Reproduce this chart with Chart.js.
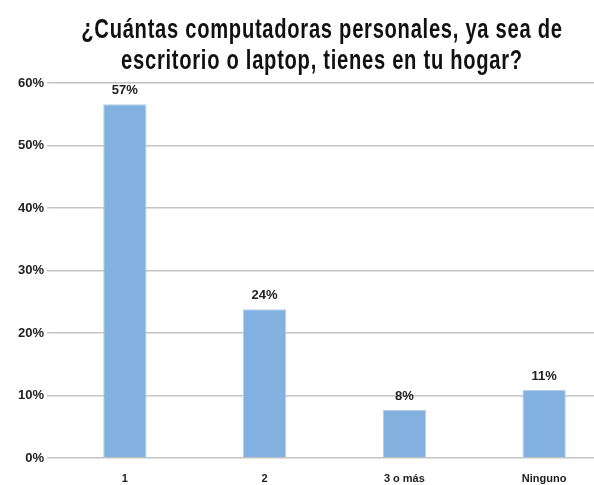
<!DOCTYPE html>
<html>
<head>
<meta charset="utf-8">
<script src="https://cdn.jsdelivr.net/npm/chart.js@4"></script>
<style>
  html, body { margin: 0; padding: 0; background: #fff; overflow: hidden; }
  #wrap { width: 644px; height: 485px; }
</style>
</head>
<body>
<div id="wrap"><canvas id="pcChart" width="644" height="485"></canvas></div>
<script>
var categories = ["1", "2", "3 o más", "Ninguno"];
var shares = [56.6, 23.8, 7.7, 10.9];
var shareLabels = ["57%", "24%", "8%", "11%"];
var yTicks = [0, 10, 20, 30, 40, 50, 60];
var titleLines = ["¿Cuántas computadoras personales, ya sea de", "escritorio o laptop, tienes en tu hogar?"];

// labels above bars
var barLabels = {
    id: 'barLabels',
    afterDatasetsDraw: function(chart) {
        var ctx = chart.ctx;
        var meta = chart.getDatasetMeta(0);
        ctx.save();
        ctx.font = 'bold 13px "Liberation Sans", Arial, sans-serif';
        ctx.fillStyle = '#222';
        ctx.textAlign = 'center';
        ctx.textBaseline = 'bottom';
        meta.data.forEach(function(bar, i) {
            ctx.fillText(shareLabels[i], bar.x, bar.y - 7);
        });
        ctx.restore();
    }
};

// condensed two line title
var condensedTitle = {
    id: 'condensedTitle',
    afterDraw: function(chart) {
        var ctx = chart.ctx;
        var cx = chart.width / 2;
        ctx.save();
        ctx.font = 'bold 28px "Liberation Sans", Arial, sans-serif';
        ctx.fillStyle = '#111';
        ctx.textAlign = 'center';
        ctx.textBaseline = 'alphabetic';
        if ('letterSpacing' in ctx) ctx.letterSpacing = '1px';
        ctx.translate(cx, 0);
        ctx.scale(0.72, 1);
        ctx.fillText(titleLines[0], 0, 38);
        ctx.fillText(titleLines[1], 0, 69);
        ctx.restore();
    }
};

try {
    var ctx = document.getElementById("pcChart");
    var myChart = new Chart(ctx, {
        type: 'bar',
        data: {
            labels: categories,
            datasets: [{
                data: shares,
                backgroundColor: "#82b1e0",
                borderColor: "#b5cfe9",
                borderWidth: 1,
                categoryPercentage: 1,
                barPercentage: 0.31
            }]
        },
        options: {
            responsive: false,
            animation: false,
            layout: { padding: { left: 0, right: 30, top: 83, bottom: 0 } },
            plugins: {
                legend: { display: false },
                tooltip: { enabled: false },
                title: { display: false }
            },
            scales: {
                x: {
                    grid: { display: false },
                    border: { display: false },
                    ticks: {
                        color: '#222',
                        padding: 6,
                        font: { family: '"Liberation Sans", Arial, sans-serif', size: 11, weight: 'bold' }
                    },
                    afterFit: function(scale) { scale.height = 27; }
                },
                y: {
                    min: 0,
                    max: 60,
                    afterBuildTicks: function(scale) {
                        scale.ticks = yTicks.map(function(v) { return { value: v }; });
                    },
                    grid: { color: '#c4c4c4', lineWidth: 1.5, drawTicks: true, tickLength: 8 },
                    border: { display: false },
                    ticks: {
                        color: '#222',
                        padding: 3,
                        font: { family: '"Liberation Sans", Arial, sans-serif', size: 13, weight: 'bold' },
                        callback: function(v) { return v + '%'; }
                    },
                    afterFit: function(scale) { scale.width = 55; }
                }
            }
        },
        plugins: [barLabels, condensedTitle]
    });
} catch (error) {
    console.log(error);
}
</script>
</body>
</html>
